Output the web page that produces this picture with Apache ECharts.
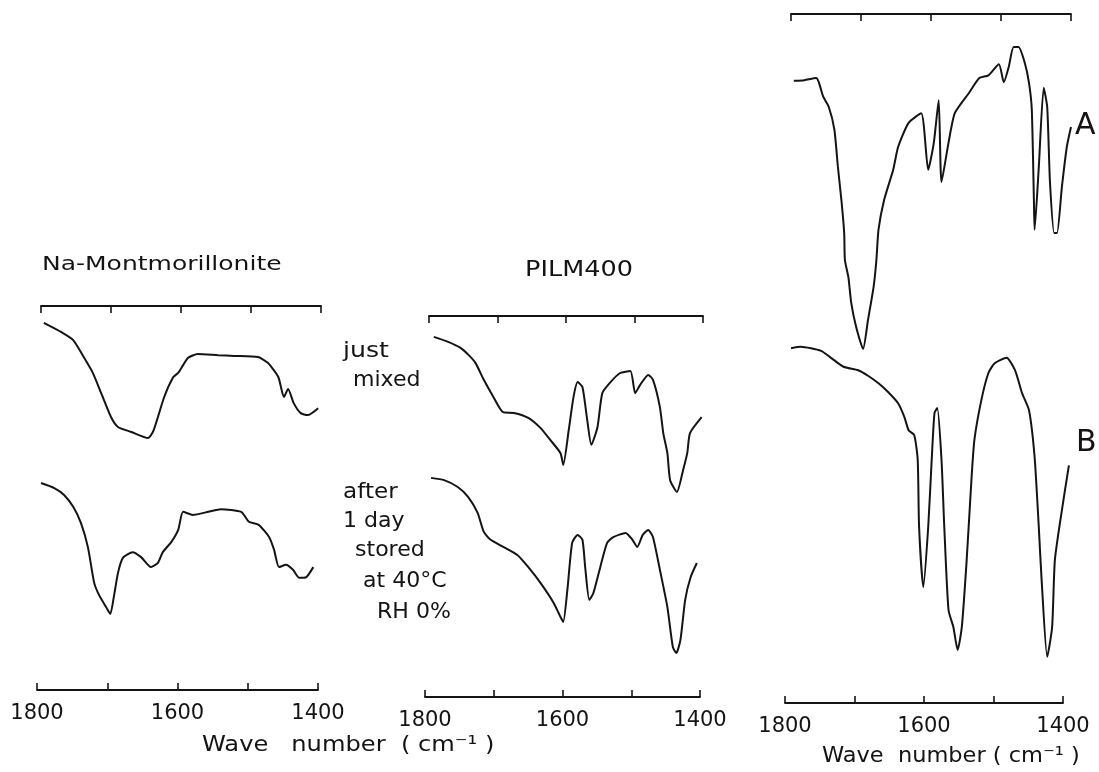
<!DOCTYPE html>
<html><head><meta charset="utf-8">
<script src="https://cdn.jsdelivr.net/npm/echarts@6/dist/echarts.min.js"></script>
<style>html,body{margin:0;padding:0;background:#fff}#c{width:1099px;height:772px}</style>
</head><body><div id="c"></div>
<script>
// ---- axis ticks / labels (wave number, cm-1) ----
const wnMin = 1400, wnMax = 1800, wnStep = 100;
const tickLabels = ['1800', '1600', '1400'];

// ---- Na-Montmorillonite, just mixed (relative transmittance) ----
const naMixedWn = [1796,1771,1754,1739,1726,1714,1700,1690,1671,1647,1639,1624,1611,1604,1597,1590,1576,1547,1524,1490,1476,1461,1453,1447,1439,1429,1419,1404];
const naMixedT  = [95.6,93.2,91.1,86.7,82.6,77.3,71.1,68.5,67.2,65.6,67.7,76.3,81.5,82.6,84.6,86.5,87.5,87.2,87.0,86.7,85.2,81.5,76.3,78.4,74.7,72.1,71.6,73.4];
// ---- Na-Montmorillonite, after 1 day stored ----
const naStoredWn = [1800,1781,1767,1754,1743,1733,1724,1717,1707,1701,1696,1690,1683,1669,1657,1643,1633,1626,1614,1604,1597,1583,1561,1543,1514,1503,1489,1474,1467,1460,1450,1440,1431,1421,1411];
const naStoredT  = [53.9,52.6,50.8,47.7,43.5,37.2,27.9,24.7,21.6,19.8,24.2,30.5,34.4,35.9,34.6,32.0,33.1,35.9,38.5,41.7,46.4,45.6,46.4,47.1,46.4,43.8,43.0,39.8,36.5,32.0,32.6,31.3,29.2,29.4,32.0];

// ---- PILM400, just mixed ----
const pilmMixedWn = [1793,1772,1754,1742,1732,1720,1706,1692,1676,1655,1637,1623,1608,1604,1596,1589,1583,1576,1569,1563,1554,1547,1535,1521,1506,1499,1492,1480,1473,1463,1458,1452,1448,1438,1429,1423,1419,1402];
const pilmMixedT  = [94.5,93.2,91.6,89.7,87.6,83.2,78.7,74.7,74.5,73.2,70.5,67.4,63.9,60.8,70.0,78.7,82.6,81.3,72.6,66.1,70.8,79.7,82.6,85.0,85.5,79.7,81.8,84.5,83.2,76.1,69.2,63.9,56.8,53.7,59.5,63.9,69.2,73.4];
// ---- PILM400, after 1 day stored ----
const pilmStoredWn = [1797,1778,1758,1743,1729,1720,1710,1691,1671,1655,1637,1618,1608,1604,1598,1591,1583,1576,1572,1566,1560,1550,1540,1531,1513,1503,1496,1488,1480,1473,1462,1452,1444,1439,1433,1426,1418,1409];
const pilmStoredT  = [57.4,56.8,55.0,52.4,48.2,43.2,41.1,39.2,37.1,33.9,29.7,24.5,20.8,19.5,27.9,40.3,42.4,41.1,33.9,25.3,27.1,33.9,40.3,41.8,42.9,41.1,39.2,42.4,43.7,41.8,32.4,23.4,12.9,11.3,14.7,25.3,31.3,35.0];

// ---- Reference spectrum A ----
const specAWn = [1796,1781,1764,1760,1754,1746,1738,1733,1728,1724,1723,1718,1714,1707,1697,1690,1682,1678,1675,1667,1654,1647,1632,1614,1604,1596,1589,1585,1575,1566,1546,1531,1518,1503,1496,1489,1482,1475,1466,1460,1456,1453,1452,1446,1439,1434,1430,1424,1420,1413,1406,1400];
const specAT  = [90.3,90.4,90.7,90.0,88.0,86.5,83.2,77.8,73.0,68.2,64.3,61.8,58.1,54.6,51.4,55.6,60.4,64.3,68.7,73.0,77.4,80.7,84.2,85.6,77.4,81.3,87.5,75.6,81.3,85.6,88.5,90.7,91.1,92.7,90.1,92.3,95.2,95.2,92.9,90.0,86.1,73.0,68.7,77.8,89.3,86.5,75.5,68.2,68.2,74.9,80.7,83.6];
// ---- Reference spectrum B ----
const specBWn = [1800,1786,1757,1743,1725,1704,1690,1675,1661,1647,1638,1632,1624,1619,1617,1611,1604,1599,1595,1591,1585,1581,1575,1568,1562,1556,1549,1542,1538,1528,1518,1509,1492,1480,1470,1460,1452,1446,1442,1434,1427,1423,1413,1403];
const specBT  = [51.5,51.7,51.1,50.1,48.8,48.3,47.5,46.4,45.1,43.5,41.5,39.6,38.9,35.3,25.5,16.8,25.5,35.3,42.1,42.8,35.3,25.5,13.5,11.0,7.7,11.0,20.8,32.8,38.2,44.0,47.9,49.3,50.1,48.3,45.0,42.5,35.7,25.5,17.9,6.7,11.0,20.8,28.0,34.5];

const INK = '#141414';
const FONT = '"DejaVu Sans", "Liberation Sans", sans-serif';
const pair = (w, t) => w.map((v, i) => [v, t[i]]);

// grids: trace grid (with top axis) and bottom-axis grid for each of the three panels
const grids = [
  {left: 41,  top: 306, width: 280, height: 384},   // 0 Na traces + top axis
  {left: 37,  top: 680, width: 281, height: 10},    // 1 Na bottom axis
  {left: 429, top: 316, width: 274, height: 380},   // 2 PILM traces + top axis
  {left: 425, top: 687, width: 275, height: 10},    // 3 PILM bottom axis
  {left: 791, top: 14,  width: 280, height: 689},   // 4 A/B traces + top axis
  {left: 785, top: 693, width: 278, height: 10}     // 5 A/B bottom axis
];

function xAx(gi, pos, labels) {
  return {
    gridIndex: gi, type: 'value', position: pos, min: wnMin, max: wnMax, interval: wnStep, inverse: true,
    axisLine: {show: true, onZero: false, lineStyle: {color: INK, width: 1.8}},
    axisTick: {show: true, inside: true, length: 7, lineStyle: {color: INK, width: 1.6}},
    splitLine: {show: false},
    axisLabel: labels ? {
      show: true, color: INK, fontSize: 21, fontFamily: FONT, margin: 13,
      showMinLabel: true, showMaxLabel: true,
      formatter: v => tickLabels.includes(String(v)) ? String(v) : ''
    } : {show: false}
  };
}
function yAx(gi) {
  return {gridIndex: gi, type: 'value', min: 0, max: 100, show: false, splitLine: {show: false}};
}
function trace(name, gi, w, t) {
  return {
    name, type: 'line', xAxisIndex: gi, yAxisIndex: gi, data: pair(w, t),
    showSymbol: false, smooth: 0.2, lineStyle: {color: INK, width: 2}, silent: true
  };
}
function txt(s, x, y, size, sx) {
  return {type: 'text', x, y, scaleX: sx || 1,
    style: {text: s, font: size + 'px ' + FONT, fill: INK, textAlign: 'left', textVerticalAlign: 'middle', align: 'left', verticalAlign: 'middle'}};
}

const chart = echarts.init(document.getElementById('c'), null, {renderer: 'canvas'});
chart.setOption({
  animation: false,
  backgroundColor: '#ffffff',
  grid: grids,
  xAxis: [xAx(0, 'top', false), xAx(1, 'bottom', true), xAx(2, 'top', false), xAx(3, 'bottom', true), xAx(4, 'top', false), xAx(5, 'bottom', true)],
  yAxis: [yAx(0), yAx(1), yAx(2), yAx(3), yAx(4), yAx(5)],
  series: [
    trace('Na-Montmorillonite just mixed', 0, naMixedWn, naMixedT),
    trace('Na-Montmorillonite after 1 day', 0, naStoredWn, naStoredT),
    trace('PILM400 just mixed', 2, pilmMixedWn, pilmMixedT),
    trace('PILM400 after 1 day', 2, pilmStoredWn, pilmStoredT),
    trace('A', 4, specAWn, specAT),
    trace('B', 4, specBWn, specBT)
  ],
  graphic: [
    txt('Na-Montmorillonite', 42, 265, 20, 1.25),
    txt('PILM400', 525, 270, 22, 1.16),
    txt('just', 343, 352, 21, 1.2),
    txt('mixed', 353, 381, 21, 1.05),
    txt('after', 343, 493, 21, 1.1),
    txt('1 day', 343, 522, 21, 1.05),
    txt('stored', 355, 551, 21, 1.05),
    txt('at 40°C', 363, 582, 21, 1.05),
    txt('RH 0%', 377, 613, 21, 1.05),
    txt('A', 1075, 126, 30, 1.0),
    txt('B', 1076, 443, 30, 1.0),
    txt('Wave   number  ( cm⁻¹ )', 202, 746, 21, 1.15),
    txt('Wave  number ( cm⁻¹ )', 822, 757, 21, 1.07)
  ]
});
</script>
</body></html>
